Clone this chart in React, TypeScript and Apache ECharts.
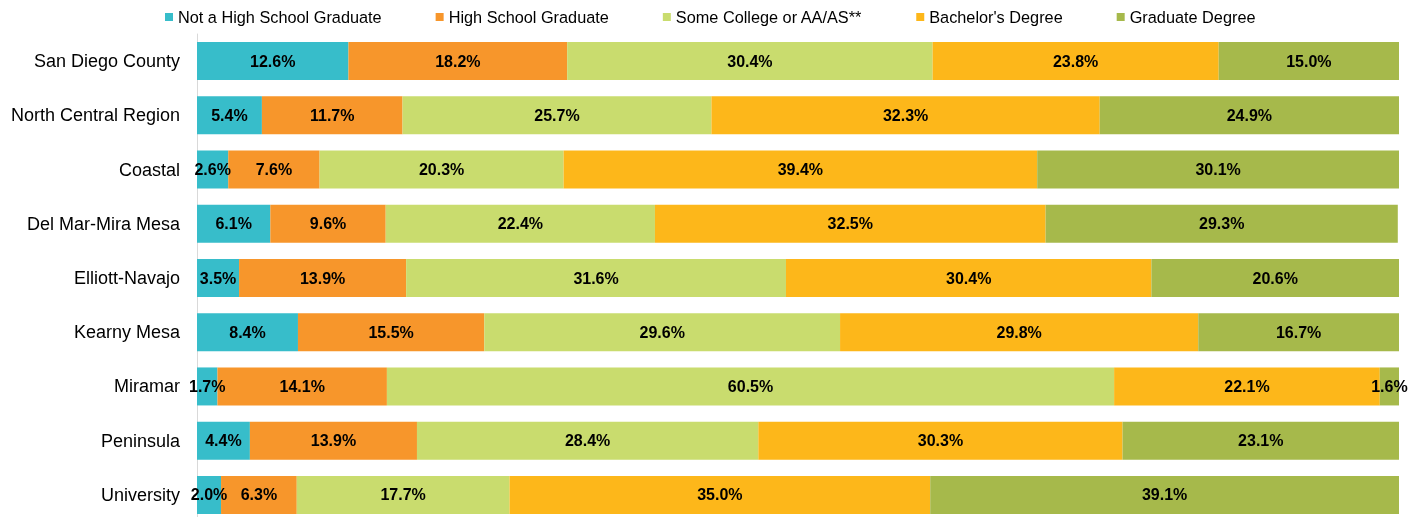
import React, { useEffect, useRef } from "react";
import * as echarts from "echarts";

const categories = [
  "San Diego County",
  "North Central Region",
  "Coastal",
  "Del Mar-Mira Mesa",
  "Elliott-Navajo",
  "Kearny Mesa",
  "Miramar",
  "Peninsula",
  "University",
];

const seriesNames = [
  "Not a High School Graduate",
  "High School Graduate",
  "Some College or AA/AS**",
  "Bachelor's Degree",
  "Graduate Degree",
];

const notHS = [12.6, 5.4, 2.6, 6.1, 3.5, 8.4, 1.7, 4.4, 2.0];
const hsGrad = [18.2, 11.7, 7.6, 9.6, 13.9, 15.5, 14.1, 13.9, 6.3];
const someCollege = [30.4, 25.7, 20.3, 22.4, 31.6, 29.6, 60.5, 28.4, 17.7];
const bachelor = [23.8, 32.3, 39.4, 32.5, 30.4, 29.8, 22.1, 30.3, 35.0];
const graduate = [15.0, 24.9, 30.1, 29.3, 20.6, 16.7, 1.6, 23.1, 39.1];

const colors = ["#37BDCA", "#F7962B", "#C9DC6E", "#FDB71A", "#A6B94B"];

export default function App() {
  const ref = useRef<HTMLDivElement>(null);
  useEffect(() => {
    if (!ref.current) return;
    const chart = echarts.init(ref.current, undefined, { renderer: "svg" });
    const values = [notHS, hsGrad, someCollege, bachelor, graduate];
    chart.setOption({
      animation: false,
      textStyle: { fontFamily: "Liberation Sans, Arial, sans-serif" },
      legend: {
        top: 4,
        left: 160,
        itemWidth: 8,
        itemHeight: 8,
        itemGap: 54,
        icon: "rect",
        textStyle: { fontSize: 16.3, color: "#000", fontFamily: "Liberation Sans, Arial, sans-serif" },
        data: seriesNames,
      },
      grid: { left: 197, right: 25, top: 34, height: 488 },
      xAxis: {
        type: "value",
        min: 0,
        max: 100,
        show: false,
      },
      yAxis: {
        type: "category",
        inverse: true,
        data: categories,
        axisLine: { show: true, lineStyle: { color: "#D9D9D9", width: 1 } },
        axisTick: { show: false },
        axisLabel: {
          fontSize: 18,
          color: "#000",
          margin: 17,
          fontFamily: "Liberation Sans, Arial, sans-serif",
        },
      },
      series: seriesNames.map((name, i) => ({
        name,
        type: "bar",
        stack: "total",
        barWidth: 38,
        itemStyle: { color: colors[i] },
        label: {
          show: true,
          position: "inside",
          formatter: (p: any) => Number(p.value).toFixed(1) + "%",
          fontSize: 16,
          fontWeight: "bold",
          color: "#000",
          fontFamily: "Liberation Sans, Arial, sans-serif",
        },
        data: values[i],
      })),
    });
    return () => chart.dispose();
  }, []);
  return (
    <div
      ref={ref}
      style={{ position: "fixed", top: 0, left: 0, width: 1424, height: 522 }}
    />
  );
}
